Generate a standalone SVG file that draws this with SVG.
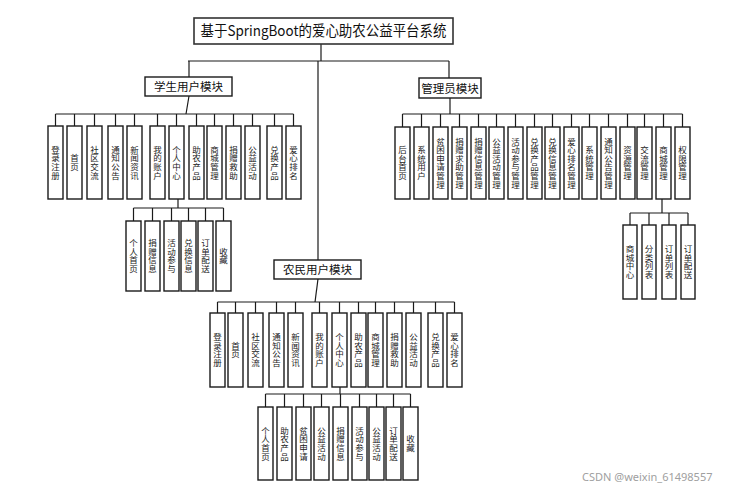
<svg xmlns="http://www.w3.org/2000/svg" width="743" height="490" viewBox="0 0 743 490">
<style>
.b{fill:#fff;stroke:#1a1a1a;stroke-width:1.4}
.t{fill:#fff;stroke:#333;stroke-width:1.6}
.v{font-family:"Noto Sans CJK SC",sans-serif;font-size:8.5px;fill:#222;writing-mode:vertical-rl;text-anchor:middle;letter-spacing:0.1px}
.h{font-family:"Noto Sans CJK SC",sans-serif;font-size:11.5px;fill:#111;text-anchor:middle}
.c line,.c polyline{stroke:#1a1a1a;stroke-width:1.2;fill:none}
</style>
<rect width="743" height="490" fill="#fff"/>
<g class="c" id="connectors">
<line x1="321" y1="44" x2="321" y2="61"/>
<line x1="188" y1="61" x2="449" y2="61"/>
<line x1="189" y1="61" x2="189" y2="77"/>
<line x1="449" y1="61" x2="449" y2="78"/>
<line x1="318" y1="61" x2="318" y2="260"/>
<line x1="189" y1="96" x2="186" y2="114"/>
<line x1="55.5" y1="114" x2="293.5" y2="114"/>
<line x1="55.5" y1="114" x2="55.5" y2="126"/><line x1="74.5" y1="114" x2="74.5" y2="126"/><line x1="94.5" y1="114" x2="94.5" y2="126"/><line x1="115.5" y1="114" x2="115.5" y2="126"/><line x1="134.5" y1="114" x2="134.5" y2="126"/><line x1="157.5" y1="114" x2="157.5" y2="126"/><line x1="176.5" y1="114" x2="176.5" y2="126"/><line x1="196.5" y1="114" x2="196.5" y2="126"/><line x1="214.5" y1="114" x2="214.5" y2="126"/><line x1="233.5" y1="114" x2="233.5" y2="126"/><line x1="252.5" y1="114" x2="252.5" y2="126"/><line x1="274.5" y1="114" x2="274.5" y2="126"/><line x1="293.5" y1="114" x2="293.5" y2="126"/>
<line x1="178" y1="199" x2="178" y2="208"/>
<line x1="133.5" y1="208" x2="223.5" y2="208"/>
<line x1="133.5" y1="208" x2="133.5" y2="221"/><line x1="152.5" y1="208" x2="152.5" y2="221"/><line x1="171.5" y1="208" x2="171.5" y2="221"/><line x1="188.5" y1="208" x2="188.5" y2="221"/><line x1="205.5" y1="208" x2="205.5" y2="221"/><line x1="223.5" y1="208" x2="223.5" y2="221"/>
<line x1="450" y1="98" x2="450" y2="114"/>
<line x1="402.5" y1="114" x2="682.5" y2="114"/>
<line x1="402.5" y1="114" x2="402.5" y2="127"/><line x1="421.5" y1="114" x2="421.5" y2="127"/><line x1="440.5" y1="114" x2="440.5" y2="127"/><line x1="459.5" y1="114" x2="459.5" y2="127"/><line x1="478.5" y1="114" x2="478.5" y2="127"/><line x1="496.5" y1="114" x2="496.5" y2="127"/><line x1="515.5" y1="114" x2="515.5" y2="127"/><line x1="534.5" y1="114" x2="534.5" y2="127"/><line x1="552.5" y1="114" x2="552.5" y2="127"/><line x1="571.5" y1="114" x2="571.5" y2="127"/><line x1="589.5" y1="114" x2="589.5" y2="127"/><line x1="608.5" y1="114" x2="608.5" y2="127"/><line x1="627.5" y1="114" x2="627.5" y2="127"/><line x1="644.5" y1="114" x2="644.5" y2="127"/><line x1="663.5" y1="114" x2="663.5" y2="127"/><line x1="682.5" y1="114" x2="682.5" y2="127"/>
<line x1="662" y1="199" x2="662" y2="213"/>
<line x1="630" y1="213" x2="688" y2="213"/>
<line x1="630" y1="213" x2="630" y2="225"/><line x1="649" y1="213" x2="649" y2="225"/><line x1="669" y1="213" x2="669" y2="225"/><line x1="688" y1="213" x2="688" y2="225"/>
<line x1="318" y1="279" x2="315" y2="302"/>
<line x1="217.5" y1="302" x2="454.5" y2="302"/>
<line x1="217.5" y1="302" x2="217.5" y2="313"/><line x1="235.5" y1="302" x2="235.5" y2="313"/><line x1="255.5" y1="302" x2="255.5" y2="313"/><line x1="276.5" y1="302" x2="276.5" y2="313"/><line x1="295.5" y1="302" x2="295.5" y2="313"/><line x1="319.5" y1="302" x2="319.5" y2="313"/><line x1="339.5" y1="302" x2="339.5" y2="313"/><line x1="358.5" y1="302" x2="358.5" y2="313"/><line x1="375.5" y1="302" x2="375.5" y2="313"/><line x1="394.5" y1="302" x2="394.5" y2="313"/><line x1="413.5" y1="302" x2="413.5" y2="313"/><line x1="435.5" y1="302" x2="435.5" y2="313"/><line x1="454.5" y1="302" x2="454.5" y2="313"/>
<line x1="340" y1="387" x2="340" y2="394"/>
<line x1="265.5" y1="394" x2="410.5" y2="394"/>
<line x1="265.5" y1="394" x2="265.5" y2="407"/><line x1="284.5" y1="394" x2="284.5" y2="407"/><line x1="303.5" y1="394" x2="303.5" y2="407"/><line x1="321.5" y1="394" x2="321.5" y2="407"/><line x1="340.5" y1="394" x2="340.5" y2="407"/><line x1="359.5" y1="394" x2="359.5" y2="407"/><line x1="376.5" y1="394" x2="376.5" y2="407"/><line x1="393.5" y1="394" x2="393.5" y2="407"/><line x1="410.5" y1="394" x2="410.5" y2="407"/>
</g>
<g id="title"><rect class="t" x="194" y="18" width="259" height="26"/><text x="323.5" y="36" class="h" style="font-size:14.5px" textLength="246" lengthAdjust="spacingAndGlyphs">基于SpringBoot的爱心助农公益平台系统</text></g>
<g id="student"><rect class="b" x="145" y="77" width="87" height="19"/><text x="188.5" y="91" class="h">学生用户模块</text></g>
<g id="admin"><rect class="b" x="419" y="78" width="62" height="20"/><text x="450" y="92.5" class="h">管理员模块</text></g>
<g id="farmer"><rect class="b" x="274" y="260" width="87" height="19"/><text x="317.5" y="274" class="h">农民用户模块</text></g>
<g id="s1"><rect class="b" x="48" y="126" width="15" height="73"/><text class="v" x="55.5" y="162.5">登录注册</text></g>
<g id="s2"><rect class="b" x="67" y="126" width="15" height="73"/><text class="v" x="74.5" y="162.5">首页</text></g>
<g id="s3"><rect class="b" x="87" y="126" width="15" height="73"/><text class="v" x="94.5" y="162.5">社区交流</text></g>
<g id="s4"><rect class="b" x="108" y="126" width="15" height="73"/><text class="v" x="115.5" y="162.5">通知公告</text></g>
<g id="s5"><rect class="b" x="127" y="126" width="15" height="73"/><text class="v" x="134.5" y="162.5">新闻资讯</text></g>
<g id="s6"><rect class="b" x="150" y="126" width="15" height="73"/><text class="v" x="157.5" y="162.5">我的账户</text></g>
<g id="s7"><rect class="b" x="169" y="126" width="15" height="73"/><text class="v" x="176.5" y="162.5">个人中心</text></g>
<g id="s8"><rect class="b" x="189" y="126" width="15" height="73"/><text class="v" x="196.5" y="162.5">助农产品</text></g>
<g id="s9"><rect class="b" x="207" y="126" width="15" height="73"/><text class="v" x="214.5" y="162.5">商城管理</text></g>
<g id="s10"><rect class="b" x="226" y="126" width="15" height="73"/><text class="v" x="233.5" y="162.5">捐赠救助</text></g>
<g id="s11"><rect class="b" x="245" y="126" width="15" height="73"/><text class="v" x="252.5" y="162.5">公益活动</text></g>
<g id="s12"><rect class="b" x="267" y="126" width="15" height="73"/><text class="v" x="274.5" y="162.5">兑换产品</text></g>
<g id="s13"><rect class="b" x="286" y="126" width="15" height="73"/><text class="v" x="293.5" y="162.5">爱心排名</text></g>
<g id="sp1"><rect class="b" x="126" y="221" width="15" height="70"/><text class="v" x="133.5" y="256">个人首页</text></g>
<g id="sp2"><rect class="b" x="145" y="221" width="15" height="70"/><text class="v" x="152.5" y="256">捐赠信息</text></g>
<g id="sp3"><rect class="b" x="164" y="221" width="15" height="70"/><text class="v" x="171.5" y="256">活动参与</text></g>
<g id="sp4"><rect class="b" x="181" y="221" width="15" height="70"/><text class="v" x="188.5" y="256">兑换信息</text></g>
<g id="sp5"><rect class="b" x="198" y="221" width="15" height="70"/><text class="v" x="205.5" y="256">订单配送</text></g>
<g id="sp6"><rect class="b" x="216" y="221" width="15" height="70"/><text class="v" x="223.5" y="256">收藏</text></g>
<g id="a1"><rect class="b" x="395" y="127" width="15" height="72"/><text class="v" x="402.5" y="163">后台首页</text></g>
<g id="a2"><rect class="b" x="414" y="127" width="15" height="72"/><text class="v" x="421.5" y="163">系统用户</text></g>
<g id="a3"><rect class="b" x="433" y="127" width="15" height="72"/><text class="v" x="440.5" y="163">贫困申请管理</text></g>
<g id="a4"><rect class="b" x="452" y="127" width="15" height="72"/><text class="v" x="459.5" y="163">捐赠求助管理</text></g>
<g id="a5"><rect class="b" x="471" y="127" width="15" height="72"/><text class="v" x="478.5" y="163">捐赠信息管理</text></g>
<g id="a6"><rect class="b" x="489" y="127" width="15" height="72"/><text class="v" x="496.5" y="163">公益活动管理</text></g>
<g id="a7"><rect class="b" x="508" y="127" width="15" height="72"/><text class="v" x="515.5" y="163">活动参与管理</text></g>
<g id="a8"><rect class="b" x="527" y="127" width="15" height="72"/><text class="v" x="534.5" y="163">兑换产品管理</text></g>
<g id="a9"><rect class="b" x="545" y="127" width="15" height="72"/><text class="v" x="552.5" y="163">兑换信息管理</text></g>
<g id="a10"><rect class="b" x="564" y="127" width="15" height="72"/><text class="v" x="571.5" y="163">爱心排名管理</text></g>
<g id="a11"><rect class="b" x="582" y="127" width="15" height="72"/><text class="v" x="589.5" y="163">系统管理</text></g>
<g id="a12"><rect class="b" x="601" y="127" width="15" height="72"/><text class="v" x="608.5" y="163">通知公告管理</text></g>
<g id="a13"><rect class="b" x="620" y="127" width="15" height="72"/><text class="v" x="627.5" y="163">资源管理</text></g>
<g id="a14"><rect class="b" x="637" y="127" width="15" height="72"/><text class="v" x="644.5" y="163">交流管理</text></g>
<g id="a15"><rect class="b" x="656" y="127" width="15" height="72"/><text class="v" x="663.5" y="163">商城管理</text></g>
<g id="a16"><rect class="b" x="675" y="127" width="15" height="72"/><text class="v" x="682.5" y="163">权限管理</text></g>
<g id="ap1"><rect class="b" x="623" y="225" width="14" height="74"/><text class="v" x="630" y="262">商城中心</text></g>
<g id="ap2"><rect class="b" x="642" y="225" width="14" height="74"/><text class="v" x="649" y="262">分类列表</text></g>
<g id="ap3"><rect class="b" x="662" y="225" width="14" height="74"/><text class="v" x="669" y="262">订单列表</text></g>
<g id="ap4"><rect class="b" x="681" y="225" width="14" height="74"/><text class="v" x="688" y="262">订单配送</text></g>
<g id="f1"><rect class="b" x="210" y="313" width="15" height="74"/><text class="v" x="217.5" y="350">登录注册</text></g>
<g id="f2"><rect class="b" x="228" y="313" width="15" height="74"/><text class="v" x="235.5" y="350">首页</text></g>
<g id="f3"><rect class="b" x="248" y="313" width="15" height="74"/><text class="v" x="255.5" y="350">社区交流</text></g>
<g id="f4"><rect class="b" x="269" y="313" width="15" height="74"/><text class="v" x="276.5" y="350">通知公告</text></g>
<g id="f5"><rect class="b" x="288" y="313" width="15" height="74"/><text class="v" x="295.5" y="350">新闻资讯</text></g>
<g id="f6"><rect class="b" x="312" y="313" width="15" height="74"/><text class="v" x="319.5" y="350">我的账户</text></g>
<g id="f7"><rect class="b" x="332" y="313" width="15" height="74"/><text class="v" x="339.5" y="350">个人中心</text></g>
<g id="f8"><rect class="b" x="351" y="313" width="15" height="74"/><text class="v" x="358.5" y="350">助农产品</text></g>
<g id="f9"><rect class="b" x="368" y="313" width="15" height="74"/><text class="v" x="375.5" y="350">商城管理</text></g>
<g id="f10"><rect class="b" x="387" y="313" width="15" height="74"/><text class="v" x="394.5" y="350">捐赠救助</text></g>
<g id="f11"><rect class="b" x="406" y="313" width="15" height="74"/><text class="v" x="413.5" y="350">公益活动</text></g>
<g id="f12"><rect class="b" x="428" y="313" width="15" height="74"/><text class="v" x="435.5" y="350">兑换产品</text></g>
<g id="f13"><rect class="b" x="447" y="313" width="15" height="74"/><text class="v" x="454.5" y="350">爱心排名</text></g>
<g id="fp1"><rect class="b" x="258" y="407" width="15" height="73"/><text class="v" x="265.5" y="443.5">个人首页</text></g>
<g id="fp2"><rect class="b" x="277" y="407" width="15" height="73"/><text class="v" x="284.5" y="443.5">助农产品</text></g>
<g id="fp3"><rect class="b" x="296" y="407" width="15" height="73"/><text class="v" x="303.5" y="443.5">贫困申请</text></g>
<g id="fp4"><rect class="b" x="314" y="407" width="15" height="73"/><text class="v" x="321.5" y="443.5">公益活动</text></g>
<g id="fp5"><rect class="b" x="333" y="407" width="15" height="73"/><text class="v" x="340.5" y="443.5">捐赠信息</text></g>
<g id="fp6"><rect class="b" x="352" y="407" width="15" height="73"/><text class="v" x="359.5" y="443.5">活动参与</text></g>
<g id="fp7"><rect class="b" x="369" y="407" width="15" height="73"/><text class="v" x="376.5" y="443.5">公益活动</text></g>
<g id="fp8"><rect class="b" x="386" y="407" width="15" height="73"/><text class="v" x="393.5" y="443.5">订单配送</text></g>
<g id="fp9"><rect class="b" x="403" y="407" width="15" height="73"/><text class="v" x="410.5" y="443.5">收藏</text></g>
<text x="582" y="481" style="font-family:'Noto Sans','Noto Sans CJK SC',sans-serif;font-size:11px;fill:#a0a0a0">CSDN @weixin_61498557</text>
</svg>
